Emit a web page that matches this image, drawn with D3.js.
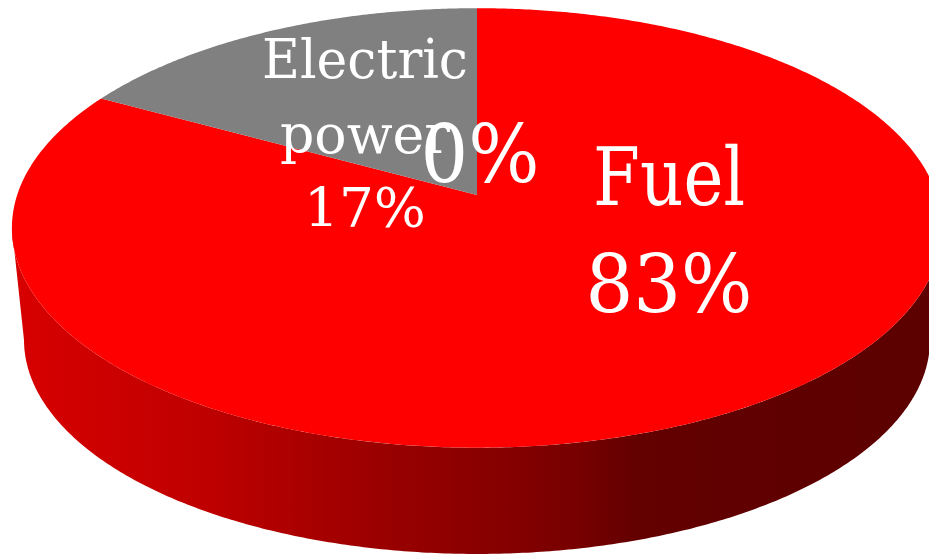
<!DOCTYPE html>
<html>
<head>
<meta charset="utf-8">
<script src="https://cdn.jsdelivr.net/npm/d3@7"></script>
<style>
  body { margin: 0; background: #fff; }
  svg { display: block; }
</style>
</head>
<body>
<div id="chart"></div>
<script>
// chart data
var categories = ["Fuel", "Electric power", ""];
var values = [83, 17, 0];
var percentLabels = ["83%", "17%", "0%"];
var sliceColors = ["#ff0000", "#808080", "#4f81bd"];

var width = 929, height = 557;

// 3d view (perspective of the top face, fitted to the picture)
var tilt = 27.85 * Math.PI / 180;
var camDist = 5.9;
var focal = 2713;
var cx = 477, cy = 195;          // projected centre of the pie top
var depthShift = 112;            // how far the bottom rim sits below the top rim
var depthScale = 0.974;          // bottom rim is a bit smaller (further away)

function projectTop(theta) {
    var X = Math.sin(theta), Z = Math.cos(theta);
    var yv = Z * Math.sin(tilt);
    var zv = Z * Math.cos(tilt);
    return [cx + focal * X / (camDist + zv), cy - focal * yv / (camDist + zv)];
}
// centre of the projected ellipse (not the same as the pie centre)
var ellipseMidY = (projectTop(0)[1] + projectTop(Math.PI)[1]) / 2;

function projectBottom(theta) {
    var p = projectTop(theta);
    return [cx + depthScale * (p[0] - cx), ellipseMidY + depthShift + depthScale * (p[1] - ellipseMidY)];
}

function arcPoints(a0, a1, fn) {
    var n = Math.max(2, Math.ceil(Math.abs(a1 - a0) / (0.5 * Math.PI / 180)));
    var pts = [];
    for (var i = 0; i <= n; i++) pts.push(fn(a0 + (a1 - a0) * i / n));
    return pts;
}

var svg = d3.select("#chart")
    .append("svg")
    .attr("width", width)
    .attr("height", height);

// shading of the side wall, light on the left, dark on the right
var grad = svg.append("defs").append("linearGradient")
    .attr("id", "sideShade")
    .attr("gradientUnits", "userSpaceOnUse")
    .attr("x1", 15).attr("x2", 929).attr("y1", 0).attr("y2", 0);
[[0, "#d80000"], [0.2, "#c00000"], [0.4, "#9a0000"], [0.51, "#8a0000"],
 [0.62, "#760000"], [0.68, "#630000"], [1, "#5c0000"]].forEach(function (s) {
    grad.append("stop").attr("offset", s[0]).attr("stop-color", s[1]);
});

var pieData = d3.pie()
    .sort(null)
    .value(d => d.value)(categories.map((c, i) => ({ name: c, value: values[i], pct: percentLabels[i], color: sliceColors[i] })));

var line = d3.line();

// side wall: only the front part between the two silhouette points is visible
var edge = Math.acos(-Math.cos(tilt) / camDist);
var frontStart = edge, frontEnd = 2 * Math.PI - edge;

pieData.forEach(function (d) {
    var a0 = Math.max(d.startAngle, frontStart);
    var a1 = Math.min(d.endAngle, frontEnd);
    if (a1 <= a0) return;
    var topRim = arcPoints(a0, a1, projectTop);
    var botRim = arcPoints(a1, a0, projectBottom);
    svg.append("path")
        .attr("d", line(topRim.concat(botRim)) + "Z")
        .attr("fill", d.data.color === "#ff0000" ? "url(#sideShade)" : d3.color(d.data.color).darker(1.5));
});

// top faces
pieData.forEach(function (d) {
    if (d.endAngle - d.startAngle <= 0) return;
    var pts = [[cx, cy]].concat(arcPoints(d.startAngle, d.endAngle, projectTop));
    svg.append("path")
        .attr("d", line(pts) + "Z")
        .attr("fill", d.data.color);
});

// data labels (name + percent), placed like the original
var labelLayout = [
    { x: 669, y: 205, size: 80, gap: 107, widths: [152, 167] },
    { x: 365, y: 78, size: 54, gap: 74.5, widths: [206, 170, 122] },
    { x: 480, y: 182, size: 80, gap: 0, widths: [119] }
];

pieData.forEach(function (d, i) {
    var lay = labelLayout[i];
    var lines = d.data.name ? d.data.name.split(" ") : [];
    lines.push(d.data.pct);
    var t = svg.append("text")
        .attr("text-anchor", "middle")
        .attr("fill", "white")
        .style("font-family", "'DejaVu Serif', serif")
        .style("font-size", lay.size + "px");
    lines.forEach(function (s, j) {
        t.append("tspan")
            .attr("x", lay.x)
            .attr("y", lay.y + j * lay.gap)
            .attr("textLength", lay.widths[j])
            .attr("lengthAdjust", "spacingAndGlyphs")
            .text(s);
    });
});
</script>
</body>
</html>
